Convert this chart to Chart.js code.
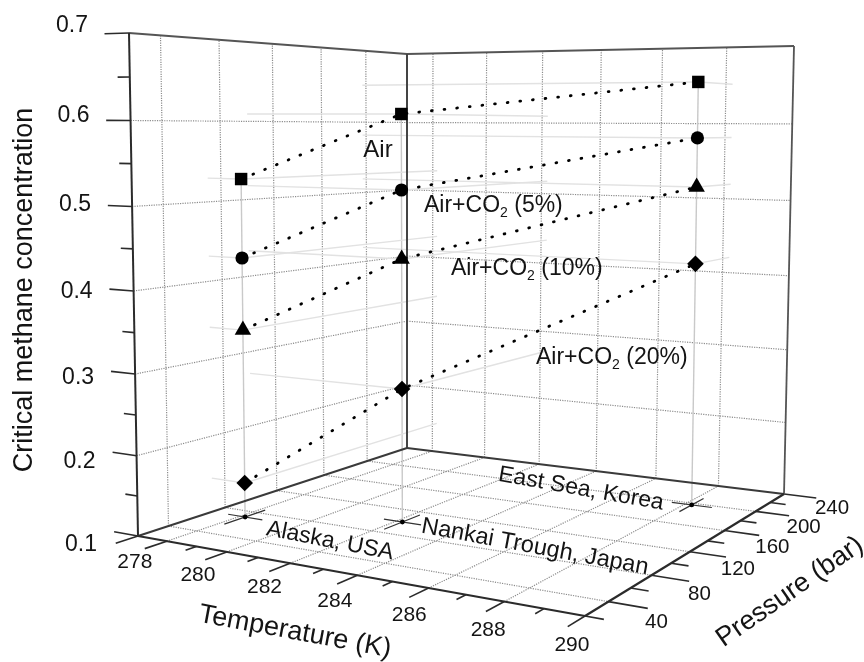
<!DOCTYPE html>
<html><head><meta charset="utf-8">
<style>html,body{margin:0;padding:0;background:#fff}canvas{display:block}</style>
<script src="https://cdn.jsdelivr.net/npm/chart.js@4"></script>
</head><body><canvas id="c" width="864" height="662"></canvas>
<script>
// ---- data ----
const sites = ["Alaska, USA", "Nankai Trough, Japan", "East Sea, Korea"];
const temperatureK = [278.17, 282.2, 288.2];
const pressureBar = [70.6, 100, 196.7];
const seriesNames = ["Air", "Air+CO2 (5%)", "Air+CO2 (10%)", "Air+CO2 (20%)"];
const air = [0.5295, 0.6094, 0.6518];
const co2_5 = [0.4319, 0.5178, 0.5817];
const co2_10 = [0.3414, 0.4334, 0.5196];
const co2_20 = [0.1447, 0.2709, 0.4208];
const temperatureTicks = [278, 280, 282, 284, 286, 288, 290];
const temperatureMinor = [277, 279, 281, 283, 285, 287, 289];
const pressureTicks = [40, 80, 120, 160, 200, 240];
const pressureMinor = [20, 60, 100, 140, 180, 220];
const concentrationTicks = [0.1, 0.2, 0.3, 0.4, 0.5, 0.6, 0.7];
const concentrationMinor = [0.15, 0.25, 0.35, 0.45, 0.55, 0.65];

// ---- 3D axis ranges and view ----
const T0 = 277, T1 = 290, P0 = 20, P1 = 240, C0 = 0.1, C1 = 0.7;
const floorView = {o:[138,536], t:[585,616], tp:[784,494], p:[407,448]};
const roofView = {o:[129,33], p:[407,54], tp:[794,46]};
const depthBend = 0.95;
const dx1=floorView.t[0]-floorView.tp[0], dx2=floorView.p[0]-floorView.tp[0];
const dy1=floorView.t[1]-floorView.tp[1], dy2=floorView.p[1]-floorView.tp[1];
const sx=floorView.o[0]-floorView.t[0]+floorView.tp[0]-floorView.p[0];
const sy=floorView.o[1]-floorView.t[1]+floorView.tp[1]-floorView.p[1];
const den=dx1*dy2-dx2*dy1;
const G=(sx*dy2-dx2*sy)/den, H=(dx1*sy-sx*dy1)/den;
function numerators(view,i){
  const c=view.o[i];
  const b=view.p[i]*(1+H)-c;
  const a=view.tp[i]*(1+G+H)-b-c;
  return [a,b,c];
}
const floorN=[numerators(floorView,0),numerators(floorView,1)];
const roofN=[numerators(roofView,0),numerators(roofView,1)];
function project(T,P,C){
  const u=(T-T0)/(T1-T0),v=(P-P0)/(P1-P0),w=(C-C0)/(C1-C0);
  const d=G*u+H*v+1;
  const t=w*depthBend/(1+w*(depthBend-1));
  const at=(n)=>(n[0]*u+n[1]*v+n[2])/d;
  return {x:at(floorN[0])*(1-t)+at(roofN[0])*t,y:at(floorN[1])*(1-t)+at(roofN[1])*t};
}

// ---- datasets ----
const datasets=[];
const mark=(vals,style,r)=>datasets.push({data:vals.map((c,i)=>project(temperatureK[i],pressureBar[i],c)),
  showLine:true,tension:0,borderColor:'#000',borderWidth:2.8,borderDash:[0.8,11.9],borderCapStyle:'round',
  pointStyle:style,pointRadius:r,pointBackgroundColor:'#000',pointBorderColor:'#000',pointBorderWidth:0});
mark(air,'rect',8.8);mark(co2_5,'circle',6.6);mark(co2_10,'triangle',9.5);mark(co2_20,'rectRot',8.3);
const seg=(a,b,color,width,dash)=>datasets.push({data:[project(...a),project(...b)],showLine:true,tension:0,
  borderColor:color,borderWidth:width,borderDash:dash||[],pointRadius:0});

// site markers on the floor
datasets.push({data:temperatureK.map((t,i)=>project(t,pressureBar[i],C0)),showLine:false,pointRadius:2.4,pointBackgroundColor:'#000',pointBorderWidth:0});
const AX='#2b2b2b';
temperatureK.forEach((t,i)=>{const p=pressureBar[i];
  seg([t-0.6,p,C0],[t+0.6,p,C0],'#333',1.2);
  seg([t,p-15,C0],[t,p+15,C0],'#333',1.2);
});
// outer frame and axes
seg([T0,P0,C0],[T1,P0,C0],AX,2.2);
seg([T1,P0,C0],[T1,P1,C0],AX,2.2);
seg([T0,P0,C0],[T0,P1,C0],'#3a3a3a',2);
seg([T0,P1,C0],[T1,P1,C0],'#3a3a3a',2);
seg([T0,P0,C0],[T0,P0,C1],AX,2);
seg([T0,P1,C0],[T0,P1,C1],'#444',2);
seg([T1,P1,C0],[T1,P1,C1],'#555',1.8);
seg([T0,P0,C1],[T0,P1,C1],'#555',1.8);
seg([T0,P1,C1],[T1,P1,C1],'#555',1.8);
// tick marks
concentrationTicks.forEach(c=>seg([T0-0.85,P0,c],[T0,P0,c],AX,1.6));
concentrationMinor.forEach(c=>seg([T0-0.42,P0,c],[T0,P0,c],AX,1.6));
temperatureTicks.forEach(t=>seg([t,P0-14,C0],[t,P0,C0],AX,1.6));
temperatureMinor.forEach(t=>seg([t,P0-(t===T0?14:7),C0],[t,P0,C0],AX,1.6));
pressureTicks.forEach(p=>seg([T1,p,C0],[T1+0.95,p,C0],AX,1.6));
pressureMinor.forEach(p=>seg([T1,p,C0],[T1+0.45,p,C0],AX,1.6));
// drop lines
temperatureK.forEach((t,i)=>{const p=pressureBar[i];
  seg([t,p,C0],[t,p,air[i]],'#c9c9c9',1.4);
  [air,co2_5,co2_10,co2_20].forEach(s=>{
    seg([t,p,s[i]],[T0,p,s[i]],'#e2e2e2',1.4);
    seg([t,p,s[i]],[t,P1,s[i]],'#e2e2e2',1.4);
  });
});
// dotted grids on floor and walls
const GRID='#8c8c8c',DOT=[1.2,1.2];
temperatureTicks.slice(0,-1).forEach(t=>{
  seg([t,P0,C0],[t,P1,C0],GRID,1.2,DOT);
  seg([t,P1,C0],[t,P1,C1],GRID,1.2,DOT);
});
pressureTicks.slice(0,-1).forEach(p=>{
  seg([T0,p,C0],[T1,p,C0],GRID,1.2,DOT);
  seg([T0,p,C0],[T0,p,C1],GRID,1.2,DOT);
});
concentrationTicks.slice(1,-1).forEach(c=>{
  seg([T0,P0,c],[T0,P1,c],GRID,1.2,DOT);
  seg([T0,P1,c],[T1,P1,c],GRID,1.2,DOT);
});

// ---- text ----
const FONT='"Liberation Sans", Arial, sans-serif';
const INK='#141414';
function txt(ctx,s,x,y,size,rot,align){
  ctx.save();ctx.translate(x,y);ctx.rotate((rot||0)*Math.PI/180);
  ctx.font=size+'px '+FONT;ctx.fillStyle=INK;ctx.textAlign=align||'center';ctx.textBaseline='middle';
  ctx.fillText(s,0,0);ctx.restore();
}
function co2Label(ctx,pct,x,base,size){
  ctx.save();ctx.fillStyle=INK;ctx.textAlign='left';ctx.textBaseline='alphabetic';
  ctx.font=size+'px '+FONT;ctx.fillText('Air+CO',x,base);x+=ctx.measureText('Air+CO').width;
  ctx.font=Math.round(size*0.6)+'px '+FONT;ctx.fillText('2',x,base+5);x+=ctx.measureText('2').width;
  ctx.font=size+'px '+FONT;ctx.fillText(' ('+pct+'%)',x,base);ctx.restore();
}
const textPlugin={id:'text',afterDraw(chart){
  const ctx=chart.ctx;
  concentrationTicks.forEach(c=>{const p=project(T0,P0,c);
    txt(ctx,c.toFixed(1),p.x-57,p.y+0.65-25.5*(c-0.4),23);});
  temperatureTicks.forEach(t=>{const p=project(t,P0,C0);
    txt(ctx,String(t),p.x-32+(t-278)*1.58,p.y+21.5+(t-278)*0.67,21);});
  pressureTicks.forEach(b=>{const p=project(T1,b,C0);
    txt(ctx,String(b),p.x+48,p.y+14.5+(240-b)*0.03,20.5);});
  txt(ctx,'Critical methane concentration',25,290,27,-90);
  txt(ctx,'Temperature (K)',295,632,27,10.5);
  txt(ctx,'Pressure (bar)',790,592,27,-35);
  txt(ctx,seriesNames[0],378,150,24);
  co2Label(ctx,'5',424,212,23);
  co2Label(ctx,'10',451,275,23);
  co2Label(ctx,'20',536,364,23);
  txt(ctx,sites[0],330,541,23,11);
  txt(ctx,sites[1],535,547,23.5,10.5);
  txt(ctx,sites[2],581,489,23,10);
}};

new Chart(document.getElementById('c'),{
  type:'scatter',
  data:{datasets},
  options:{responsive:false,animation:false,
    layout:{padding:0,autoPadding:false},
    plugins:{legend:{display:false},tooltip:{enabled:false}},
    scales:{
      x:{type:'linear',min:0,max:864,display:false},
      y:{type:'linear',min:0,max:662,reverse:true,display:false}
    }},
  plugins:[textPlugin]
});
</script></body></html>
